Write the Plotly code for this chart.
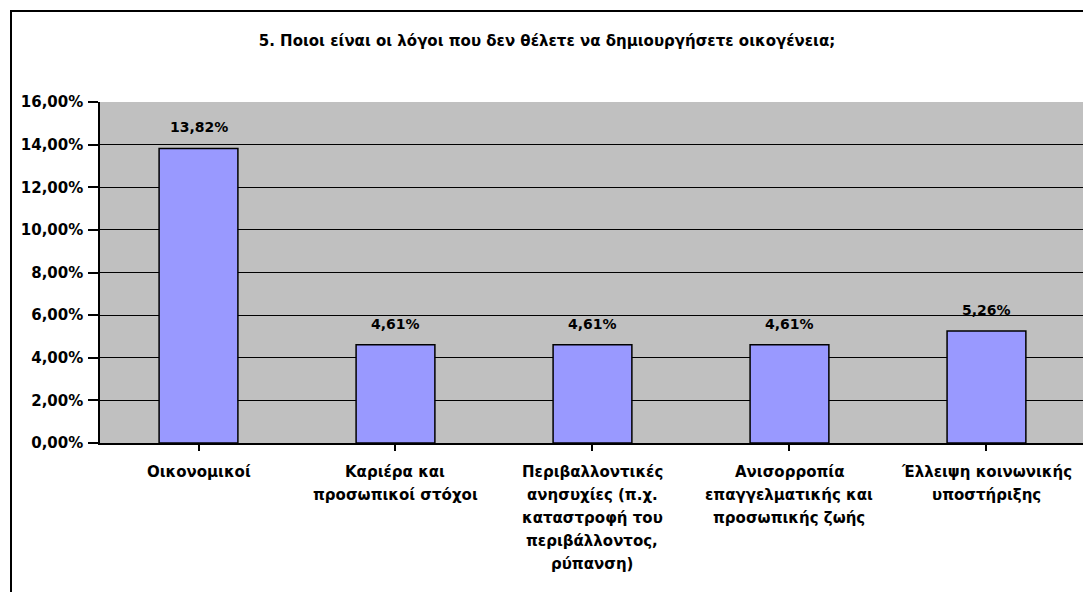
import plotly.graph_objects as go

# Survey question and answers
title_text = "5. Ποιοι είναι οι λόγοι που δεν θέλετε να δημιουργήσετε οικογένεια;"
categories = [
    "Οικονομικοί",
    "Καριέρα και<br>προσωπικοί στόχοι",
    "Περιβαλλοντικές<br>ανησυχίες (π.χ.<br>καταστροφή του<br>περιβάλλοντος,<br>ρύπανση)",
    "Ανισορροπία<br>επαγγελματικής και<br>προσωπικής ζωής",
    "Έλλειψη κοινωνικής<br>υποστήριξης",
]
shares = [0.1382, 0.0461, 0.0461, 0.0461, 0.0526]
y_ticks = [0.0, 0.02, 0.04, 0.06, 0.08, 0.10, 0.12, 0.14, 0.16]

FONT = "DejaVu Sans, Arial, sans-serif"
W, H = 1083, 592
ML, MR, MT, MB = 100, 0, 102, 149
PW, PH = W - ML - MR, H - MT - MB

x_idx = list(range(len(categories)))

fig = go.Figure(
    go.Bar(
        x=x_idx,
        y=shares,
        width=0.4,
        marker=dict(color="#9999FF", line=dict(color="black", width=1.5)),
        hoverinfo="skip",
    )
)

annotations = []
# value labels above each bar
for i, v in zip(x_idx, shares):
    annotations.append(dict(
        x=i, y=v, xref="x", yref="y",
        text=f"{v*100:.2f}%".replace(".", ","),
        showarrow=False, yanchor="middle", yshift=21,
        font=dict(family=FONT, size=14, color="black", weight="bold"),
    ))
# category labels, one line at a time
for i, cat in zip(x_idx, categories):
    for k, line in enumerate(cat.split("<br>")):
        annotations.append(dict(
            x=i, y=0, xref="x", yref="paper",
            text=line, showarrow=False, yanchor="middle",
            yshift=-(29 + 23 * k),
            font=dict(family=FONT, size=15, color="black", weight="bold"),
        ))

# outer frame of the chart
px = lambda p: (p - ML) / PW
py = lambda p: (H - MB - p) / PH
shapes = [dict(
    type="rect", xref="paper", yref="paper",
    x0=px(11), x1=px(1100), y0=py(640), y1=py(11),
    line=dict(color="black", width=2), fillcolor="rgba(0,0,0,0)", layer="below",
)]

fig.update_layout(
    width=W, height=H,
    margin=dict(l=ML, r=MR, t=MT, b=MB, pad=0),
    paper_bgcolor="white",
    plot_bgcolor="#C0C0C0",
    separators=",.",
    showlegend=False,
    title=dict(
        text=title_text, x=547 / W, xanchor="center",
        y=1 - 41 / H, yanchor="middle", yref="container",
        font=dict(family=FONT, size=15, color="black", weight="bold"),
    ),
    xaxis=dict(
        range=[-0.5, 4.49], tickmode="array", tickvals=x_idx,
        showticklabels=False, tickson="boundaries",
        ticks="outside", ticklen=6, tickwidth=1.5, tickcolor="black",
        showline=True, linecolor="black", linewidth=1.5,
        showgrid=False, zeroline=False, fixedrange=True,
    ),
    yaxis=dict(
        range=[0, 0.16], tickmode="array", tickvals=y_ticks,
        tickformat=".2%",
        ticks="outside", ticklen=10, tickwidth=1.5, tickcolor="black",
        ticklabelstandoff=2,
        showline=True, linecolor="black", linewidth=1.5,
        showgrid=True, gridcolor="black", gridwidth=1.3,
        zeroline=False, fixedrange=True,
        tickfont=dict(family=FONT, size=15, color="black", weight="bold"),
    ),
    annotations=annotations,
    shapes=shapes,
)

fig.write_html("out.html", config={"displayModeBar": False})
